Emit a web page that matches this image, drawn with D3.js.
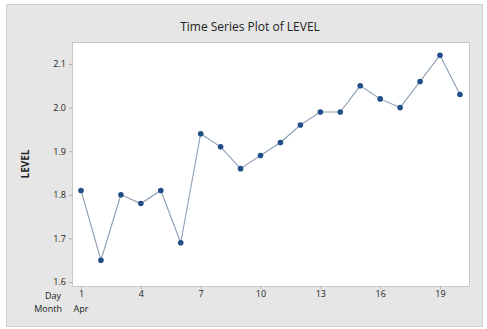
<!DOCTYPE html>
<html>
<head>
<meta charset="utf-8">
<script src="https://cdn.jsdelivr.net/npm/d3@7"></script>
<style>
  html, body { margin: 0; padding: 0; background: #ffffff; }
  svg { display: block; }
  text { font-family: "Open Sans", "DejaVu Sans", sans-serif; fill: #222; }
</style>
</head>
<body>
<svg id="chart" width="487" height="329"></svg>
<script>
// Daily LEVEL readings, April
const days = [1, 2, 3, 4, 5, 6, 7, 8, 9, 10, 11, 12, 13, 14, 15, 16, 17, 18, 19, 20];
const level = [1.81, 1.65, 1.80, 1.78, 1.81, 1.69, 1.94, 1.91, 1.86, 1.89,
               1.92, 1.96, 1.99, 1.99, 2.05, 2.02, 2.00, 2.06, 2.12, 2.03];
const dayTicks = [1, 4, 7, 10, 13, 16, 19];
const levelTicks = [1.6, 1.7, 1.8, 1.9, 2.0, 2.1];
const monthLabel = "Apr";

const svg = d3.select("#chart");

// outer grey panel
svg.append("rect")
  .attr("x", 6.5).attr("y", 4.5)
  .attr("width", 476).attr("height", 322)
  .attr("fill", "#e6e6e6")
  .attr("stroke", "#d0d0d0");

const plot = { left: 72, top: 42, right: 469, bottom: 286 };

// data region
svg.append("rect")
  .attr("x", plot.left + 0.5).attr("y", plot.top + 0.5)
  .attr("width", plot.right - plot.left).attr("height", plot.bottom - plot.top)
  .attr("fill", "#ffffff")
  .attr("stroke", "#c8c8c8");

const x = d3.scaleLinear().domain([1, 19]).range([81, 440]);
const y = d3.scaleLinear().domain([1.6, 2.1]).range([282, 64]);

// axes
const yAxis = d3.axisLeft(y).tickValues(levelTicks).tickFormat(d3.format(".1f"))
  .tickSize(3).tickPadding(3);
const gy = svg.append("g").attr("transform", `translate(${plot.left},0)`).call(yAxis);
gy.select(".domain").remove();
gy.selectAll(".tick line").attr("stroke", "#b0b0b0");
gy.selectAll(".tick text").attr("font-size", 9).attr("fill", "#222");

const xAxis = d3.axisBottom(x).tickValues(dayTicks).tickFormat(d3.format("d"))
  .tickSize(3).tickPadding(2);
const gx = svg.append("g").attr("transform", `translate(0,${plot.bottom})`).call(xAxis);
gx.select(".domain").remove();
gx.selectAll(".tick line").attr("stroke", "#b0b0b0");
gx.selectAll(".tick text").attr("font-size", 9).attr("fill", "#222");

// row labels for the time scale
svg.append("text").attr("x", 61).attr("y", 299)
  .attr("text-anchor", "end").attr("font-size", 9).text("Day");
svg.append("text").attr("x", 62).attr("y", 312)
  .attr("text-anchor", "end").attr("font-size", 9).text("Month");
svg.append("text").attr("x", x(1)).attr("y", 312)
  .attr("text-anchor", "middle").attr("font-size", 9).text(monthLabel);

// title
svg.append("text").attr("x", 250).attr("y", 31)
  .attr("text-anchor", "middle").attr("font-size", 12).text("Time Series Plot of LEVEL");

// y-axis title
svg.append("text")
  .attr("transform", "translate(29,164) rotate(-90)")
  .attr("text-anchor", "middle").attr("font-size", 10).attr("font-weight", "bold")
  .text("LEVEL");

// series
const pts = days.map((d, i) => [d, level[i]]);
svg.append("path")
  .datum(pts)
  .attr("fill", "none")
  .attr("stroke", "#8c9db3")
  .attr("stroke-width", 1.1)
  .attr("d", d3.line().x(d => x(d[0])).y(d => y(d[1])));

svg.append("g").selectAll("circle")
  .data(pts).join("circle")
  .attr("cx", d => x(d[0])).attr("cy", d => y(d[1]))
  .attr("r", 2.8)
  .attr("fill", "#1f4f86");
</script>
</body>
</html>
